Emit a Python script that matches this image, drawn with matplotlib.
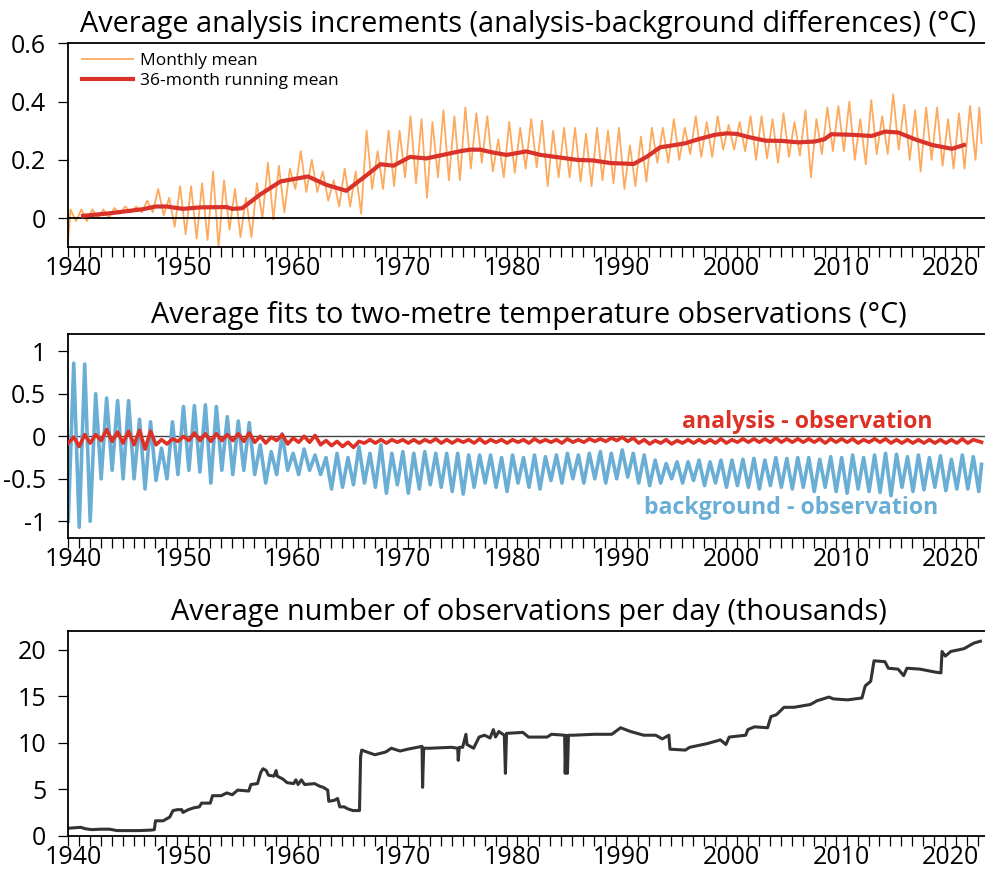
import numpy as np
import matplotlib

matplotlib.use("Agg")
import matplotlib.pyplot as plt
from matplotlib.ticker import NullFormatter

plt.rcParams["font.family"] = ["Open Sans", "DejaVu Sans"]

# ---- panel 1: analysis increments (deg C) -------------------------------
# one seasonal high and low per year (1940-2022)
inc_years = np.arange(1940, 2023)
inc_peak = [
    0.03, 0.03, 0.03, 0.03, 0.035, 0.04, 0.04, 0.06, 0.10, 0.07,
    0.11, 0.11, 0.12, 0.16, 0.13, 0.10, 0.07, 0.12, 0.19, 0.18,
    0.17, 0.23, 0.20, 0.16, 0.13, 0.17, 0.16, 0.30, 0.23, 0.30,
    0.30, 0.35, 0.34, 0.33, 0.37, 0.35, 0.38, 0.36, 0.35, 0.27,
    0.33, 0.31, 0.34, 0.335, 0.30, 0.31, 0.31, 0.29, 0.31, 0.30,
    0.31, 0.25, 0.28, 0.31, 0.31, 0.34, 0.31, 0.35, 0.33, 0.35,
    0.32, 0.33, 0.35, 0.35, 0.34, 0.36, 0.33, 0.37, 0.34, 0.38,
    0.385, 0.40, 0.34, 0.405, 0.35, 0.425, 0.39, 0.37, 0.38, 0.38,
    0.34, 0.36, 0.385,
]
inc_trough = [
    -0.01, -0.01, 0.0, 0.0, 0.015, 0.02, 0.02, 0.02, 0.01, -0.03,
    -0.055, -0.07, -0.075, -0.10, -0.04, -0.065, -0.065, 0.0, -0.005, 0.02,
    0.10, 0.09, 0.09, 0.06, 0.04, 0.04, 0.015, 0.10, 0.10, 0.11,
    0.14, 0.12, 0.07, 0.14, 0.13, 0.13, 0.17, 0.19, 0.16, 0.14,
    0.155, 0.17, 0.175, 0.11, 0.14, 0.14, 0.125, 0.11, 0.13, 0.12,
    0.10, 0.11, 0.125, 0.19, 0.19, 0.20, 0.22, 0.21, 0.21, 0.235,
    0.235, 0.23, 0.20, 0.205, 0.19, 0.21, 0.215, 0.14, 0.22, 0.23,
    0.23, 0.20, 0.185, 0.22, 0.22, 0.235, 0.20, 0.16, 0.20, 0.18,
    0.17, 0.17, 0.20,
]
inc_head_t = [1940.0]
inc_head_v = [-0.10]
inc_tail_t = [2023.1, 2023.3]
inc_tail_v = [0.38, 0.257]

rm_t = [
    1941.4, 1943.9, 1946.9, 1948.0, 1949.0, 1950.5, 1952.1, 1954.5, 1955.0,
    1955.9, 1957.5, 1959.4, 1960.6, 1961.9, 1963.6, 1965.4, 1966.65, 1967.3,
    1968.5, 1969.7, 1971.2, 1972.7, 1974.2, 1975.8, 1976.7, 1977.6, 1978.8,
    1980.0, 1981.8, 1983.1, 1984.9, 1986.4, 1987.9, 1989.5, 1991.6, 1992.8,
    1994.0, 1995.2, 1996.3, 1997.5, 1999.0, 2000.1, 2001.0, 2002.1, 2003.6,
    2005.1, 2006.6, 2008.1, 2009.0, 2009.6, 2011.5, 2013.3, 2014.5, 2015.7,
    2017.2, 2018.8, 2020.6, 2021.7,
]
rm_v = [
    0.008, 0.017, 0.031, 0.040, 0.040, 0.032, 0.037, 0.038, 0.032,
    0.034, 0.080, 0.126, 0.134, 0.143, 0.114, 0.094, 0.130, 0.149,
    0.185, 0.180, 0.210, 0.205, 0.217, 0.230, 0.235, 0.235, 0.225,
    0.217, 0.229, 0.217, 0.208, 0.200, 0.198, 0.189, 0.186, 0.211,
    0.243, 0.250, 0.257, 0.271, 0.286, 0.291, 0.289, 0.278, 0.266,
    0.265, 0.260, 0.263, 0.271, 0.288, 0.286, 0.282, 0.297, 0.294,
    0.271, 0.251, 0.238, 0.251,
]

# ---- panel 2: fits to two-metre temperature observations (deg C) ---------
fit_years = np.arange(1940, 2023)
bo_low = [
    -1.0, -1.07, -1.0, -0.5, -0.4, -0.5, -0.5, -0.62, -0.52, -0.5,
    -0.45, -0.4, -0.42, -0.55, -0.4, -0.45, -0.4, -0.45, -0.55, -0.45,
    -0.4, -0.45, -0.4, -0.45, -0.62, -0.6, -0.57, -0.55, -0.6, -0.67,
    -0.57, -0.67, -0.62, -0.57, -0.6, -0.65, -0.68, -0.6, -0.55, -0.6,
    -0.65, -0.55, -0.6, -0.62, -0.52, -0.55, -0.5, -0.55, -0.5, -0.55,
    -0.5, -0.48, -0.55, -0.58, -0.55, -0.5, -0.55, -0.52, -0.58, -0.55,
    -0.6, -0.58, -0.6, -0.62, -0.58, -0.6, -0.62, -0.6, -0.65, -0.6,
    -0.65, -0.67, -0.62, -0.65, -0.66, -0.7, -0.6, -0.65, -0.63, -0.6,
    -0.64, -0.62, -0.62,
]
bo_high = [
    0.86, 0.85, 0.5, 0.45, 0.42, 0.42, 0.2, 0.17, -0.14, 0.17,
    0.35, 0.36, 0.37, 0.35, 0.23, 0.18, 0.16, -0.1, -0.18, 0.03,
    -0.2, -0.15, -0.22, -0.25, -0.2, -0.25, -0.12, -0.2, -0.1, -0.2,
    -0.18, -0.2, -0.18, -0.2, -0.2, -0.2, -0.22, -0.22, -0.22, -0.25,
    -0.22, -0.25, -0.22, -0.24, -0.22, -0.2, -0.22, -0.2, -0.18, -0.2,
    -0.16, -0.2, -0.22, -0.28, -0.32, -0.3, -0.3, -0.28, -0.3, -0.28,
    -0.28, -0.27, -0.26, -0.28, -0.25, -0.26, -0.25, -0.25, -0.27, -0.24,
    -0.25, -0.22, -0.25, -0.22, -0.2, -0.21, -0.24, -0.22, -0.25, -0.23,
    -0.27, -0.22, -0.24,
]
bo_tail_t = [2023.05, 2023.3]
bo_tail_v = [-0.65, -0.33]

ao_low = [
    -0.08, -0.12, -0.08, -0.05, -0.06, -0.08, -0.10, -0.15, -0.10, -0.09,
    -0.06, -0.05, -0.05, -0.06, -0.05, -0.05, -0.06, -0.07, -0.08, -0.05,
    -0.09, -0.07, -0.07, -0.10, -0.11, -0.12, -0.13, -0.08, -0.08, -0.08,
    -0.07, -0.08, -0.08, -0.07, -0.08, -0.08, -0.07, -0.08, -0.08, -0.07,
    -0.08, -0.07, -0.08, -0.07, -0.07, -0.08, -0.07, -0.07, -0.06, -0.06,
    -0.05, -0.06, -0.08, -0.09, -0.08, -0.09, -0.08, -0.08, -0.08, -0.08,
    -0.08, -0.07, -0.07, -0.07, -0.07, -0.07, -0.07, -0.07, -0.07, -0.08,
    -0.07, -0.07, -0.08, -0.07, -0.07, -0.08, -0.08, -0.08, -0.08, -0.08,
    -0.08, -0.08, -0.08,
]
ao_high = [
    -0.01, 0.02, 0.02, 0.08, 0.05, 0.06, 0.07, 0.06, -0.04, -0.03,
    0.0, 0.04, 0.03, 0.03, 0.02, 0.03, 0.04, 0.0, -0.01, 0.02,
    -0.02, 0.0, 0.01, -0.05, -0.06, -0.07, -0.06, -0.04, -0.04, -0.04,
    -0.04, -0.04, -0.04, -0.03, -0.04, -0.04, -0.04, -0.03, -0.04, -0.04,
    -0.04, -0.04, -0.03, -0.04, -0.04, -0.03, -0.04, -0.03, -0.03, -0.02,
    -0.01, -0.02, -0.04, -0.05, -0.04, -0.05, -0.04, -0.04, -0.04, -0.03,
    -0.04, -0.03, -0.03, -0.03, -0.02, -0.03, -0.03, -0.03, -0.03, -0.03,
    -0.03, -0.03, -0.04, -0.03, -0.03, -0.04, -0.04, -0.04, -0.04, -0.04,
    -0.04, -0.03, -0.04,
]
ao_tail_t = [2023.3]
ao_tail_v = [-0.07]

# ---- panel 3: observations per day (thousands) ---------------------------
obs_t = [
    1940.0, 1940.6, 1941.2, 1941.6, 1942.2, 1943.0, 1943.8, 1944.5, 1946.5,
    1947.6, 1947.9, 1948.0, 1948.7, 1949.0, 1949.3, 1949.6, 1950.0, 1950.4,
    1950.5, 1951.0, 1951.5, 1952.0, 1952.2, 1953.0, 1953.2, 1954.0, 1954.5,
    1955.0, 1955.5, 1956.5, 1956.7, 1957.3, 1957.6, 1957.8, 1958.1, 1958.3,
    1958.8, 1959.0, 1959.1, 1959.6, 1960.0, 1960.6, 1960.8, 1961.0, 1961.3,
    1961.6, 1962.5, 1963.0, 1963.3, 1963.7, 1963.8, 1964.3, 1964.6, 1964.8,
    1965.2, 1965.5, 1966.0, 1966.6, 1966.7, 1966.8, 1967.5, 1968.0, 1969.0,
    1969.5, 1970.3, 1971.0, 1972.3, 1972.35, 1972.45, 1973.0, 1975.0, 1975.55,
    1975.6, 1975.7, 1976.0, 1976.3, 1976.4, 1977.0, 1977.5, 1978.0, 1978.5,
    1978.8, 1979.0, 1979.3, 1979.8, 1979.9, 1980.0, 1981.5, 1982.0, 1983.7,
    1984.1, 1985.3, 1985.35, 1985.45, 1985.55, 1985.65, 1986.1, 1988.0, 1989.6,
    1990.4, 1991.3, 1992.5, 1993.6, 1994.2, 1994.8, 1994.9, 1996.3, 1996.7,
    1998.3, 1999.5, 2000.0, 2000.3, 2001.8, 2002.0, 2002.6, 2003.8, 2004.1,
    2004.6, 2005.3, 2006.2, 2007.7, 2008.3, 2009.4, 2009.8, 2011.1, 2012.4,
    2012.7, 2013.2, 2013.5, 2014.5, 2014.8, 2015.7, 2016.2, 2016.5, 2017.7,
    2019.0, 2019.6, 2019.7, 2020.0, 2020.5, 2021.7, 2022.6, 2023.2,
]
obs_v = [
    0.8, 0.85, 0.9, 0.75, 0.65, 0.7, 0.7, 0.55, 0.55,
    0.6, 0.65, 1.6, 1.6, 1.8, 2.0, 2.7, 2.8, 2.8,
    2.5, 2.8, 3.0, 3.1, 3.5, 3.5, 4.3, 4.3, 4.6,
    4.4, 4.9, 4.8, 5.5, 5.6, 6.8, 7.2, 7.0, 6.5,
    6.4, 7.0, 6.4, 6.1, 5.7, 5.6, 6.0, 5.5, 6.0,
    5.5, 5.6, 5.3, 5.2, 4.9, 3.7, 3.8, 4.0, 3.1,
    3.1, 2.9, 2.7, 2.7, 8.5, 9.2, 8.9, 8.7, 9.0,
    9.4, 9.1, 9.3, 9.6, 5.2, 9.4, 9.4, 9.5, 9.4,
    8.1, 9.5, 9.5, 10.9, 9.8, 9.4, 10.6, 10.8, 10.5,
    11.4, 10.6, 11.2, 10.8, 6.7, 11.0, 11.1, 10.6, 10.6,
    10.9, 10.8, 6.7, 10.8, 6.7, 10.8, 10.8, 10.9, 10.9,
    11.6, 11.2, 10.8, 10.8, 10.4, 10.8, 9.3, 9.2, 9.5,
    9.9, 10.3, 9.8, 10.6, 10.8, 11.4, 11.7, 11.6, 12.8,
    13.0, 13.8, 13.8, 14.1, 14.5, 14.9, 14.7, 14.6, 14.8,
    16.1, 16.6, 18.8, 18.7, 18.0, 17.9, 17.2, 18.0, 17.9,
    17.6, 17.5, 19.8, 19.3, 19.8, 20.1, 20.7, 20.9,
]

decades = np.arange(1940, 2030, 10)


def zigzag(years, first, second, off1, off2, head_t=(), head_v=(), tail_t=(), tail_v=()):
    t = np.column_stack([years + off1, years + off2]).ravel()
    v = np.column_stack([first, second]).ravel()
    t = np.concatenate([head_t, t, tail_t])
    v = np.concatenate([head_v, v, tail_v])
    return t, v


W, H = 985, 872
fig = plt.figure(figsize=(W / 100, H / 100), dpi=100)


def panel(top, bottom, title):
    ax = fig.add_axes([67.7 / W, 1 - bottom / H, 921.5 / W, (bottom - top) / H])
    ax.set_xlim(1940, 2024)
    ax.set_xticks(np.arange(1940, 2024))
    ax.xaxis.set_major_formatter(NullFormatter())
    ax.set_xticks(decades + 0.5, labels=[str(d) for d in decades], minor=True)
    ax.tick_params(axis="x", which="major", direction="out", length=7, width=0.9)
    ax.tick_params(axis="x", which="minor", length=0, labelsize=18, pad=6.5)
    ax.tick_params(axis="y", direction="out", length=7.5, width=0.9, labelsize=18, pad=8)
    for s in ax.spines.values():
        s.set_linewidth(1.3)
    ax.set_title(title, fontsize=20.8, pad=8)
    return ax


ax1 = panel(43.3, 247.3, "Average analysis increments (analysis-background differences) (°C)")
t, v = zigzag(inc_years, inc_peak, inc_trough, 0.25, 0.75,
              inc_head_t, inc_head_v, inc_tail_t, inc_tail_v)
ax1.plot(t, v, color="#fdaa5e", lw=1.3, label="Monthly mean", zorder=2)
ax1.axhline(0, color="black", lw=1.3, zorder=2.5)
ax1.plot(rm_t, rm_v, color="#d8322a", lw=3, label="36-month running mean", zorder=3)
ax1.set_ylim(-0.1, 0.6)
ax1.set_yticks([0, 0.2, 0.4, 0.6], labels=["0", "0.2", "0.4", "0.6"])
ax1.legend(loc="upper left", bbox_to_anchor=(0.016, 0.955), frameon=False,
           fontsize=12.5, borderpad=0, borderaxespad=0, handlelength=2.9,
           handletextpad=0.4, labelspacing=0.25)

ax2 = panel(334.3, 538.3, "Average fits to two-metre temperature observations (°C)")
ax2.axhline(0, color="#444444", lw=1.0, zorder=1)
t, v = zigzag(fit_years, bo_low, bo_high, 0.05, 0.55, tail_t=bo_tail_t, tail_v=bo_tail_v)
ax2.plot(t, v, color="#6aaed6", lw=2.6, zorder=2)
t, v = zigzag(fit_years, ao_low, ao_high, 0.05, 0.55, tail_t=ao_tail_t, tail_v=ao_tail_v)
ax2.plot(t, v, color="#de3125", lw=2.6, zorder=3)
ax2.set_ylim(-1.2, 1.2)
ax2.set_yticks([-1, -0.5, 0, 0.5, 1], labels=["-1", "-0.5", "0", "0.5", "1"])
ax2.text(2007.4, 0.10, "analysis - observation", color="#de3125",
         fontweight="bold", fontsize=16.7, ha="center", va="baseline")
ax2.text(2005.9, -0.92, "background - observation", color="#6aaed6",
         fontweight="bold", fontsize=16.7, ha="center", va="baseline")

ax3 = panel(631, 835.7, "Average number of observations per day (thousands)")
ax3.plot(obs_t, obs_v, color="#333333", lw=2.2)
ax3.set_ylim(0, 22)
ax3.set_yticks([0, 5, 10, 15, 20])

fig.savefig("out.png", dpi=100)
